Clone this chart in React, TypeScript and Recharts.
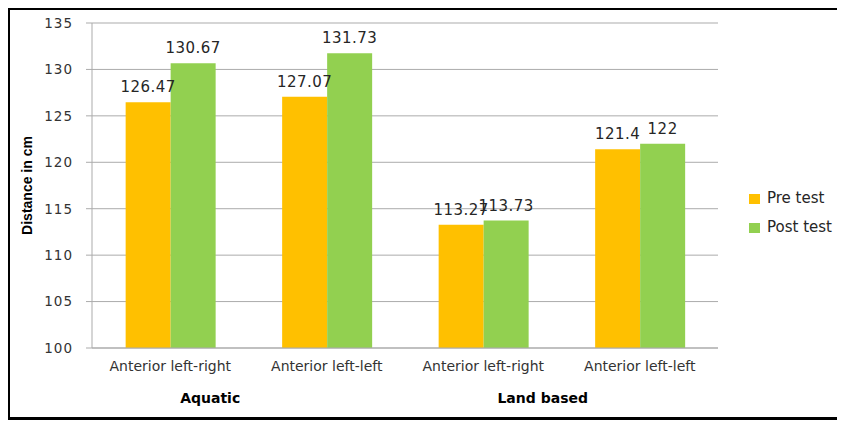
import React from 'react';
import { BarChart, Bar, XAxis, YAxis, CartesianGrid, LabelList } from 'recharts';

// Balance reach distances (cm) per test condition
const categories = ['Anterior left-right', 'Anterior left-left', 'Anterior left-right', 'Anterior left-left'];
const preTest = [126.47, 127.07, 113.27, 121.4];
const postTest = [130.67, 131.73, 113.73, 122];
const yTicks = [100, 105, 110, 115, 120, 125, 130, 135];
const groupLabels = ['Aquatic', 'Land based'];

const seriesNames = { pre: 'Pre test', post: 'Post test' };
const colors = { pre: '#FFC000', post: '#92D050' };

const data = categories.map((name, i) => ({
  idx: i,
  name,
  pre: preTest[i],
  post: postTest[i],
}));

const W = 845;
const H = 426;
const plot = { left: 92, top: 23, right: 718, bottom: 348 };
const yAxisWidth = 60;
const xAxisHeight = 30;

const tickFont = 'DejaVu Sans, sans-serif';

const LegendBox = () => (
  <div
    style={{
      position: 'absolute',
      left: 741,
      top: 176,
      fontFamily: tickFont,
      fontSize: 15,
      color: '#262626',
      lineHeight: 1,
    }}
  >
    {(['pre', 'post'] as const).map((k) => (
      <div key={k} style={{ display: 'flex', alignItems: 'center', height: 29 }}>
        <span style={{ width: 11, height: 10, background: colors[k], display: 'inline-block', marginRight: 7 }} />
        <span>{seriesNames[k]}</span>
      </div>
    ))}
  </div>
);

export default function App() {
  const catW = (plot.right - plot.left) / categories.length;
  const groupX = [plot.left + catW * 0.755, plot.left + catW * 2.88];
  return (
    <div style={{ position: 'relative', width: W - 8, height: H - 8 }}>
      <div
        style={{
          position: 'absolute',
          left: -1,
          top: -1,
          width: 835,
          height: 413,
          border: '3px solid #000',
          boxSizing: 'border-box',
        }}
      />
      <div style={{ position: 'absolute', left: -8, top: -8 }}>
        <BarChart
          width={W}
          height={H}
          data={data}
          barCategoryGap="21.5%"
          barGap={0}
          margin={{
            left: plot.left - yAxisWidth,
            top: plot.top,
            right: W - plot.right,
            bottom: H - plot.bottom - xAxisHeight,
          }}
        >
          <CartesianGrid vertical={false} stroke="#ababab" strokeWidth={1} />
          <XAxis
            dataKey="idx"
            type="category"
            height={xAxisHeight}
            tickFormatter={(v: number) => categories[v]}
            tickLine={false}
            tickSize={0}
            tickMargin={13}
            axisLine={{ stroke: '#ababab' }}
            tick={{ fontFamily: tickFont, fontSize: 14, fill: '#333' }}
            interval={0}
          />
          <YAxis
            width={yAxisWidth}
            domain={[100, 135]}
            ticks={yTicks}
            allowDataOverflow
            tickSize={6}
            tickMargin={13}
            tickLine={{ stroke: '#ababab' }}
            axisLine={{ stroke: '#ababab' }}
            tick={{ fontFamily: tickFont, fontSize: 13.5, fill: '#333', letterSpacing: 1 }}
          />
          <Bar dataKey="pre" name={seriesNames.pre} fill={colors.pre} isAnimationActive={false}>
            <LabelList
              dataKey="pre"
              position="top"
              offset={10}
              style={{ fontFamily: tickFont, fontSize: 15, fill: '#262626', letterSpacing: 0.5 }}
            />
          </Bar>
          <Bar dataKey="post" name={seriesNames.post} fill={colors.post} isAnimationActive={false}>
            <LabelList
              dataKey="post"
              position="top"
              offset={10}
              style={{ fontFamily: tickFont, fontSize: 15, fill: '#262626', letterSpacing: 0.5 }}
            />
          </Bar>
          <text
            x={27}
            y={(plot.top + plot.bottom) / 2}
            transform={`rotate(-90 27 ${(plot.top + plot.bottom) / 2})`}
            textAnchor="middle"
            dominantBaseline="central"
            fontFamily="Liberation Sans, Arial, sans-serif"
            fontWeight="bold"
            fontSize={14}
            fill="#000"
          >
            Distance in cm
          </text>
          {groupLabels.map((g, i) => (
            <text
              key={g}
              x={groupX[i]}
              y={398}
              textAnchor="middle"
              dominantBaseline="central"
              fontFamily={tickFont}
              fontWeight="bold"
              fontSize={14}
              fill="#000"
            >
              {g}
            </text>
          ))}
        </BarChart>
      </div>
      <LegendBox />
    </div>
  );
}
